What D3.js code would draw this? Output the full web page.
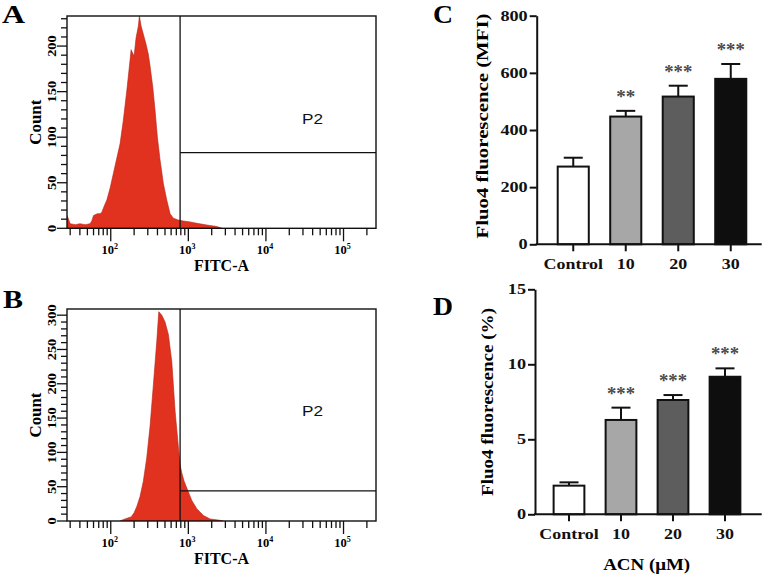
<!DOCTYPE html>
<html><head><meta charset="utf-8">
<script src="https://cdn.jsdelivr.net/npm/d3@7"></script>
<style>
html,body{margin:0;padding:0;background:#fff;}
svg{display:block;}
text{font-family:"Liberation Serif","Times New Roman",serif;}
text.sans{font-family:"Liberation Sans",Arial,sans-serif;}
</style></head>
<body><svg id="c" width="768" height="575"></svg>
<script>
// ---------- DATA ----------
// Flow cytometry histograms (FITC-A intensity, event count)
const fitcA = [27.3, 28, 30, 35, 40, 47, 54, 57, 60, 67, 73, 77, 82, 89, 98, 108, 119, 132, 145, 161, 177, 183, 192, 200, 212, 227, 234, 246, 263, 285, 305, 321, 348, 373, 399, 432, 477, 527, 582, 642, 744, 864, 1054, 1285, 1729, 2328, 2700];
const countA = [14, 12, 5, 4, 5, 4, 5, 8, 14, 16, 16, 18, 24, 31, 44, 60, 76, 93, 118, 151, 184, 196, 192, 189, 209, 222, 233, 222, 213, 202, 191, 178, 155, 129, 100, 75, 49, 31, 16, 11, 9, 8, 7, 5.5, 3.6, 2, 0];
const fitcB = [132, 144, 162, 183, 200, 218, 239, 263, 291, 321, 354, 392, 416, 455, 501, 553, 612, 675, 744, 783, 824, 882, 955, 1107, 1285, 1564, 1906, 2565, 2807];
const countB = [0, 2, 4, 6, 12, 22, 36, 58, 92, 138, 198, 262, 305, 300, 290, 272, 232, 160, 108, 82, 70, 58, 48, 30, 18, 8, 3, 1, 0];
const countMaxA = 233, countMaxB = 309;
const gateFitc = 783, gateCountA = 83, gateCountB = 44;
const fitcDomain = [27.3, 262144];
const decadeLabels = [2, 3, 4, 5];

// Bar charts
const categories = ["Control", "10", "20", "30"];
const mfiMean = [272, 447, 517, 579];
const mfiSem  = [31, 20, 38, 52];
const mfiStars = ["", "**", "***", "***"];
const mfiTicks = [0, 200, 400, 600, 800];
const pctMean = [1.91, 6.29, 7.62, 9.17];
const pctSem  = [0.22, 0.82, 0.33, 0.56];
const pctStars = ["", "***", "***", "***"];
const pctTicks = [0, 5, 10, 15];
const barColors = ["#ffffff", "#a7a7a7", "#5d5d5d", "#0e0e0e"];

// ---------- helpers ----------
const svg = d3.select("#c");
function stretch(sel, f) {
  sel.each(function () {
    const l = this.getComputedTextLength();
    this.setAttribute("textLength", l * f);
    this.setAttribute("lengthAdjust", "spacingAndGlyphs");
  });
}
function fitLen(sel, len) {
  sel.attr("textLength", len).attr("lengthAdjust", "spacingAndGlyphs");
}
function letter(txt, x, y, w) {
  const t = svg.append("text").attr("x", x).attr("y", y)
    .attr("font-size", 25).attr("font-weight", "bold").text(txt);
  fitLen(t, w);
}

// ---------- histogram panels ----------
const xH = d3.scaleLog().domain(fitcDomain).range([67, 376]);
function hist(id, top, bottom, fitc, counts, yMax, gateCount, p2y) {
  const y = d3.scaleLinear().domain([0, yMax]).range([bottom, top]);
  const g = svg.append("g");
  g.append("clipPath").attr("id", "clip" + id).append("rect")
    .attr("x", 67).attr("y", top).attr("width", 309).attr("height", bottom - top);
  const pts = fitc.map((f, i) => [f, counts[i]]);
  g.append("path").datum(pts)
    .attr("clip-path", "url(#clip" + id + ")")
    .attr("d", d3.area().x(d => xH(d[0])).y0(bottom).y1(d => y(d[1])))
    .attr("fill", "#e1321f").attr("stroke", "#b52414").attr("stroke-width", 0.6);
  // gate lines
  g.append("line").attr("x1", xH(gateFitc)).attr("x2", xH(gateFitc))
    .attr("y1", top).attr("y2", bottom).attr("stroke", "#111").attr("stroke-width", 1.3);
  g.append("line").attr("x1", xH(gateFitc)).attr("x2", 376)
    .attr("y1", y(gateCount)).attr("y2", y(gateCount)).attr("stroke", "#111").attr("stroke-width", 1.3);
  const p2 = g.append("text").attr("class", "sans").attr("x", 302).attr("y", p2y)
    .attr("font-size", 14).attr("fill", "#111").text("P2");
  fitLen(p2, 21);
  // box
  g.append("rect").attr("x", 67).attr("y", top).attr("width", 309).attr("height", bottom - top)
    .attr("fill", "none").attr("stroke", "#111").attr("stroke-width", 1.4);
  // y ticks
  const yt = d3.range(0, yMax + 0.1, 10);
  g.selectAll(".yt").data(yt).enter().append("line")
    .attr("x1", d => d % 50 === 0 ? 57 : 61).attr("x2", 67)
    .attr("y1", d => y(d)).attr("y2", d => y(d))
    .attr("stroke", "#111").attr("stroke-width", 1.3);
  const yl = g.selectAll(".yl").data(yt.filter(d => d % 50 === 0)).enter().append("text")
    .attr("transform", d => `translate(55.5,${y(d)}) rotate(-90)`)
    .attr("text-anchor", "middle").attr("font-size", 11.5).attr("font-weight", "bold")
    .text(d => d);
  stretch(yl, 1.25);
  // x ticks
  const xt = [];
  for (let e = 1; e <= 5; e++) for (let m = 1; m <= 9; m++) {
    const v = m * Math.pow(10, e);
    if (v >= fitcDomain[0] && v <= fitcDomain[1]) xt.push({ v, major: m === 1 });
  }
  g.selectAll(".xt").data(xt).enter().append("line")
    .attr("x1", d => xH(d.v)).attr("x2", d => xH(d.v))
    .attr("y1", bottom).attr("y2", d => d.major ? bottom + 13 : bottom + 7)
    .attr("stroke", "#111").attr("stroke-width", 1.3);
  const xl = g.selectAll(".xl").data(decadeLabels).enter().append("text")
    .attr("x", d => xH(Math.pow(10, d)) - 1).attr("y", bottom + 25.5)
    .attr("text-anchor", "middle").attr("font-size", 12.5).attr("font-weight", "bold");
  xl.append("tspan").text("10");
  xl.append("tspan").attr("dy", -5).attr("font-size", 8).text(d => String(d));
  const xtitle = g.append("text").attr("x", 221.5).attr("y", bottom + 43)
    .attr("text-anchor", "middle").attr("font-size", 16).attr("font-weight", "bold").text("FITC-A");
  fitLen(xtitle, 55);
  const yt2 = g.append("text")
    .attr("transform", `translate(41,${(top + bottom) / 2}) rotate(-90)`)
    .attr("text-anchor", "middle").attr("font-size", 17).attr("font-weight", "bold").text("Count");
  fitLen(yt2, 45);
}
hist("A", 16, 228.3, fitcA, countA, countMaxA, gateCountA, 123.5);
hist("B", 309, 521, fitcB, countB, countMaxB, gateCountB, 415.5);
letter("A", 2, 23, 23);
letter("B", 3, 308, 20);

// ---------- bar panels ----------
function bars(cfg) {
  const y = d3.scaleLinear().domain([0, cfg.ticks[cfg.ticks.length - 1]]).range([cfg.y0, cfg.yTop]);
  const x = d3.scaleBand().domain(categories).range(cfg.band).paddingInner(0.37).paddingOuter(0.185);
  const g = svg.append("g");
  const bw = x.bandwidth();
  const data = categories.map((c, i) => ({ c, m: cfg.mean[i], s: cfg.sem[i], st: cfg.stars[i], col: barColors[i] }));
  g.selectAll(".eb").data(data).enter().append("line")
    .attr("x1", d => x(d.c) + bw / 2).attr("x2", d => x(d.c) + bw / 2)
    .attr("y1", d => y(d.m)).attr("y2", d => y(d.m + d.s))
    .attr("stroke", "#111").attr("stroke-width", 2);
  g.selectAll(".cap").data(data).enter().append("line")
    .attr("x1", d => x(d.c) + bw / 2 - 9.5).attr("x2", d => x(d.c) + bw / 2 + 9.5)
    .attr("y1", d => y(d.m + d.s)).attr("y2", d => y(d.m + d.s))
    .attr("stroke", "#111").attr("stroke-width", 2);
  g.selectAll(".bar").data(data).enter().append("rect")
    .attr("x", d => x(d.c) + 1).attr("width", bw - 2)
    .attr("y", d => y(d.m)).attr("height", d => cfg.y0 - y(d.m))
    .attr("fill", d => d.col).attr("stroke", "#111").attr("stroke-width", 2);
  const st = g.selectAll(".st").data(data.filter(d => d.st)).enter().append("text")
    .attr("x", d => x(d.c) + bw / 2).attr("y", d => y(d.m + d.s) - 8)
    .attr("text-anchor", "middle").attr("font-size", 19).attr("font-weight", "bold").attr("fill", "#4a4a4a")
    .text(d => d.st);
  st.each(function (d) { fitLen(d3.select(this), d.st.length === 3 ? 28 : 19); });
  const ya = g.append("g").attr("transform", `translate(${cfg.ax},0)`)
    .call(d3.axisLeft(y).tickValues(cfg.ticks).tickSize(7).tickSizeOuter(0).tickPadding(2));
  ya.select(".domain").attr("stroke", "#111").attr("stroke-width", 2);
  ya.selectAll(".tick line").attr("stroke", "#111").attr("stroke-width", 2);
  const ylab = ya.selectAll(".tick text")
    .attr("font-size", 14).attr("font-weight", "bold").attr("fill", "#111");
  stretch(ylab, 1.3);
  g.append("line").attr("x1", cfg.ax - 1).attr("x2", 761.7).attr("y1", cfg.y0).attr("y2", cfg.y0)
    .attr("stroke", "#111").attr("stroke-width", 2);
  const xa = g.append("g").attr("transform", `translate(0,${cfg.y0})`)
    .call(d3.axisBottom(x).tickSize(7).tickSizeOuter(0));
  xa.select(".domain").remove();
  xa.selectAll(".tick line").attr("stroke", "#111").attr("stroke-width", 2);
  const xlab = xa.selectAll(".tick text").attr("y", 15)
    .attr("font-size", 14).attr("font-weight", "bold").attr("fill", "#111");
  stretch(xlab, 1.28);
  const yt = g.append("text")
    .attr("transform", `translate(${cfg.titleX},${cfg.titleY}) rotate(-90)`)
    .attr("text-anchor", "middle").attr("font-size", 16).attr("font-weight", "bold").text(cfg.title);
  fitLen(yt, cfg.titleLen);
}
bars({ ticks: mfiTicks, y0: 244.3, yTop: 15.7, band: [547, 757], ax: 536.7,
  mean: mfiMean, sem: mfiSem, stars: mfiStars,
  title: "Fluo4 fluorescence (MFI)", titleX: 488, titleY: 126, titleLen: 225 });
bars({ ticks: pctTicks, y0: 514.3, yTop: 289.3, band: [543, 751], ax: 535,
  mean: pctMean, sem: pctSem, stars: pctStars,
  title: "Fluo4 fluorescence (%)", titleX: 493, titleY: 402, titleLen: 188 });
const acn = svg.append("text").attr("x", 646.7).attr("y", 570).attr("text-anchor", "middle")
  .attr("font-size", 16).attr("font-weight", "bold").text("ACN (μM)");
fitLen(acn, 87);
letter("C", 433, 23, 20);
letter("D", 433, 315, 20);
</script></body></html>
